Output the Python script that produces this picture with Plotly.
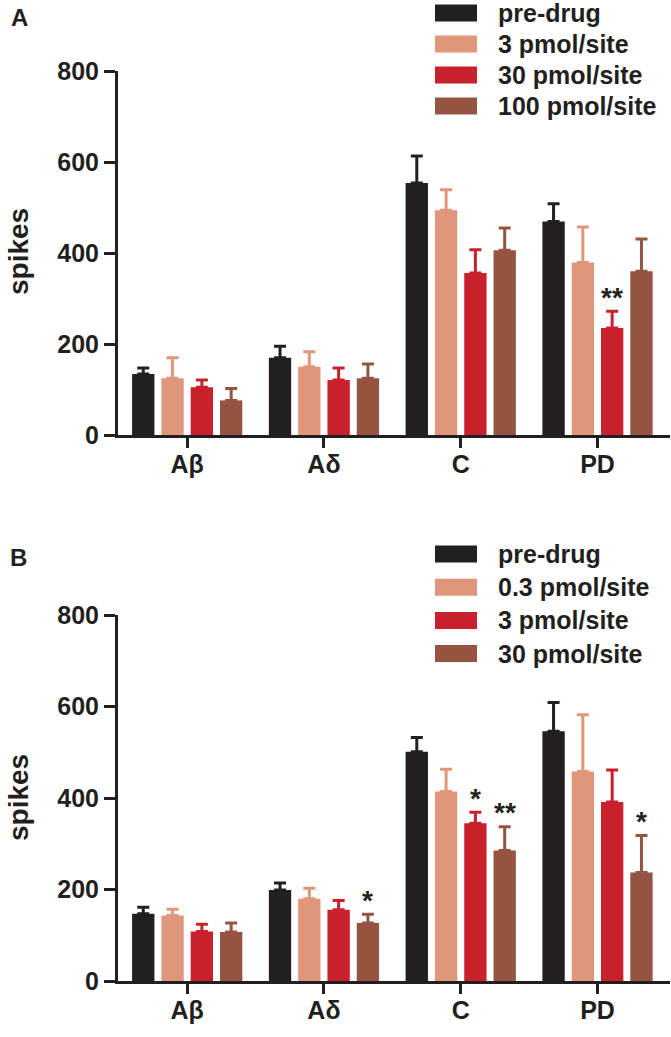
import plotly.graph_objects as go

W, H = 671, 1037

categories = ["Aβ", "Aδ", "C", "PD"]
colors = ["#231F20", "#E0967A", "#C9212B", "#955442"]

# Panel A
names_a = ["pre-drug", "3 pmol/site", "30 pmol/site", "100 pmol/site"]
vals_a = [
    [134, 170, 554, 469],
    [125, 150, 494, 379],
    [105, 121, 356, 235],
    [76, 125, 406, 360],
]
errs_a = [
    [13, 25, 59, 39],
    [45, 33, 45, 78],
    [16, 26, 51, 37],
    [26, 31, 49, 71],
]
# (series index, category index, label)
sig_a = [(2, 3, "**")]

# Panel B
names_b = ["pre-drug", "0.3 pmol/site", "3 pmol/site", "30 pmol/site"]
vals_b = [
    [147, 199, 501, 546],
    [143, 180, 414, 458],
    [108, 156, 345, 391],
    [107, 127, 285, 237],
]
errs_b = [
    [14, 15, 31, 63],
    [14, 23, 49, 124],
    [16, 20, 24, 70],
    [20, 19, 52, 81],
]
sig_b = [(3, 1, "*"), (2, 2, "*"), (3, 2, "**"), (3, 3, "*")]

yticks = [0, 200, 400, 600, 800]

FONT = "Liberation Sans, Arial, sans-serif"
BARGAP = 0.143
BARGROUPGAP = 0.238

def px(x):
    return x / W

def py(y):
    return 1 - y / H

fig = go.Figure()
xpos = list(range(len(categories)))

panels = [
    ("x", "y", names_a, vals_a, errs_a, sig_a),
    ("x2", "y2", names_b, vals_b, errs_b, sig_b),
]

annotations = []
shapes = []
pitch = (1 - BARGAP) / 4
for xa, ya, names, vals, errs, sig in panels:
    for i, (nm, v, e) in enumerate(zip(names, vals, errs)):
        fig.add_trace(go.Bar(
            x=xpos, y=v, name=nm, marker=dict(color=colors[i], line=dict(width=0)),
            error_y=dict(type="data", array=e, arrayminus=[0] * len(e), symmetric=False,
                         color=colors[i], thickness=3, width=6),
            xaxis=xa, yaxis=ya, showlegend=False, offsetgroup=str(i),
        ))
    for si, ci, lab in sig:
        annotations.append(dict(
            x=ci + (si - 1.5) * pitch, y=vals[si][ci] + errs[si][ci],
            xref=xa, yref=ya, text=lab, showarrow=False,
            yanchor="middle", yshift=14,
            font=dict(family=FONT, size=28, color="#231F20", weight="bold"),
        ))

# legends (drawn as swatch + label, from the series lists)
leg_specs = [(names_a, 13, 31.0), (names_b, 554, 33.2)]
for names, y0, step in leg_specs:
    for i, nm in enumerate(names):
        cy = y0 + i * step
        shapes.append(dict(type="rect", xref="paper", yref="paper",
                           x0=px(435), x1=px(477), y0=py(cy - 8.5), y1=py(cy + 8.5),
                           fillcolor=colors[i], line=dict(width=0)))
        annotations.append(dict(x=px(497), y=py(cy), xref="paper", yref="paper",
                                text=nm, showarrow=False, xanchor="left", yanchor="middle",
                                borderpad=0,
                                font=dict(family=FONT, size=25, color="#231F20", weight="bold")))

# panel letters and y titles
for lab, (lx, ly) in zip(["A", "B"], [(19, 17), (18, 557)]):
    annotations.append(dict(x=px(lx), y=py(ly), xref="paper", yref="paper", text=lab,
                            showarrow=False, xanchor="center", yanchor="middle",
                            font=dict(family=FONT, size=24, color="#231F20", weight="bold")))
for cy in [252, 798]:
    annotations.append(dict(x=px(18), y=py(cy), xref="paper", yref="paper", text="spikes",
                            showarrow=False, textangle=-90, xanchor="center", yanchor="middle",
                            font=dict(family=FONT, size=28, color="#231F20", weight="bold")))

xdom = [px(118), px(670)]
xaxis_common = dict(
    domain=xdom, range=[-0.506, 3.53], tickvals=xpos, ticktext=categories,
    showline=True, linewidth=3, linecolor="#231F20", ticks="outside", ticklen=10,
    tickwidth=3, tickcolor="#231F20", showgrid=False, zeroline=False,
    tickfont=dict(family=FONT, size=25, color="#231F20", weight="bold"),
    ticklabelstandoff=-5, automargin=False, fixedrange=True,
)
yaxis_common = dict(
    range=[0, 800], tickvals=yticks, showline=True, linewidth=3, linecolor="#231F20",
    ticks="outside", ticklen=11, tickwidth=3, tickcolor="#231F20", showgrid=False,
    zeroline=False, tickfont=dict(family=FONT, size=25, color="#231F20", weight="bold"),
    automargin=False, fixedrange=True,
)

fig.update_layout(
    width=W, height=H, autosize=False,
    margin=dict(l=0, r=0, t=0, b=0),
    paper_bgcolor="white", plot_bgcolor="white",
    barmode="group", bargap=BARGAP, bargroupgap=BARGROUPGAP,
    xaxis=dict(**xaxis_common, anchor="y"),
    xaxis2=dict(**xaxis_common, anchor="y2"),
    yaxis=dict(**yaxis_common, domain=[py(435), py(71)], anchor="x"),
    yaxis2=dict(**yaxis_common, domain=[py(981), py(615)], anchor="x2"),
    annotations=annotations, shapes=shapes, showlegend=False,
)

fig.write_html("out.html", config={"displayModeBar": False},
               post_script="document.body.style.margin='0px';")
